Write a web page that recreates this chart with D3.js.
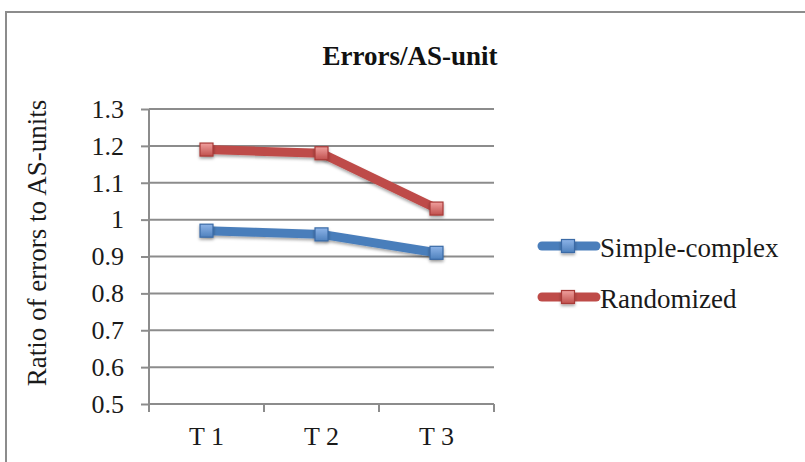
<!DOCTYPE html>
<html>
<head>
<meta charset="utf-8">
<script src="https://cdn.jsdelivr.net/npm/d3@7"></script>
<style>
  html, body { margin: 0; padding: 0; background: #fff; }
  svg { display: block; }
</style>
</head>
<body>
<svg id="chart" width="805" height="462"></svg>
<script>
// Error ratios per testing time, for each task sequencing condition
const categories = ["T 1", "T 2", "T 3"];
const simpleComplex = [0.97, 0.96, 0.91];
const randomized = [1.19, 1.18, 1.03];
const yTicks = [0.5, 0.6, 0.7, 0.8, 0.9, 1.0, 1.1, 1.2, 1.3];
const seriesNames = ["Simple-complex", "Randomized"];

const series = [
  { name: seriesNames[0], values: simpleComplex, line: "#4a7ebb", dark: "#3a6aa6", light: "#8db4e8", mid: "#4f81bd" },
  { name: seriesNames[1], values: randomized, line: "#be4b48", dark: "#a83a37", light: "#f0a09e", mid: "#c0504d" }
];

const svg = d3.select("#chart");
const serif = "'Liberation Serif', 'Times New Roman', serif";

// Outer chart frame
svg.append("rect")
  .attr("x", 6).attr("y", 12)
  .attr("width", 830).attr("height", 480)
  .attr("fill", "#fff").attr("stroke", "#8c8c8c").attr("stroke-width", 2);

const plot = { left: 149, right: 494, top: 109, bottom: 404 };

const x = d3.scaleBand().domain(categories).range([plot.left, plot.right]);
const y = d3.scaleLinear().domain([0.5, 1.3]).range([plot.bottom, plot.top]);

// Gradients and shadow for markers
const defs = svg.append("defs");
series.forEach((s, i) => {
  const g = defs.append("linearGradient").attr("id", "mk" + i)
    .attr("x1", 0).attr("y1", 0).attr("x2", 0).attr("y2", 1);
  g.append("stop").attr("offset", "0%").attr("stop-color", s.light);
  g.append("stop").attr("offset", "100%").attr("stop-color", s.mid);
});
const sh = defs.append("filter").attr("id", "shadow")
  .attr("x", "-50%").attr("y", "-50%").attr("width", "200%").attr("height", "200%");
sh.append("feDropShadow").attr("dx", 0).attr("dy", 2).attr("stdDeviation", 1.5)
  .attr("flood-color", "#000").attr("flood-opacity", 0.35);

// Horizontal gridlines
svg.append("g")
  .selectAll("line").data(yTicks.slice(1)).join("line")
  .attr("x1", plot.left).attr("x2", plot.right)
  .attr("y1", d => y(d)).attr("y2", d => y(d))
  .attr("stroke", "#8c8c8c").attr("stroke-width", 2);

// Y axis
const yAxis = svg.append("g")
  .attr("transform", `translate(${plot.left},0)`)
  .call(d3.axisLeft(y).tickValues(yTicks).tickSize(8).tickPadding(17)
    .tickFormat(d => d === 1 ? "1" : d3.format(".1f")(d)));
yAxis.select(".domain").attr("stroke", "#8c8c8c").attr("stroke-width", 2)
  .attr("d", `M0,${plot.top}V${plot.bottom}`);
yAxis.selectAll(".tick line").attr("stroke", "#8c8c8c").attr("stroke-width", 2);
yAxis.selectAll(".tick text")
  .attr("font-family", serif).attr("font-size", 26).attr("fill", "#1a1a1a");

// X axis with ticks at category boundaries
const xAxis = svg.append("g")
  .attr("transform", `translate(0,${plot.bottom})`)
  .call(d3.axisBottom(x).tickSize(0).tickPadding(23));
xAxis.select(".domain").attr("stroke", "#8c8c8c").attr("stroke-width", 2)
  .attr("d", `M${plot.left},0H${plot.right}`);
xAxis.selectAll(".tick text")
  .attr("font-family", serif).attr("font-size", 26).attr("fill", "#1a1a1a");
const bounds = categories.map(c => x(c)).concat([x(categories[categories.length - 1]) + x.bandwidth()]);
xAxis.selectAll(".bound").data(bounds).join("line")
  .attr("class", "bound")
  .attr("x1", d => d).attr("x2", d => d).attr("y1", 0).attr("y2", 8)
  .attr("stroke", "#8c8c8c").attr("stroke-width", 2);

// Series lines and markers
const line = d3.line()
  .x((d, i) => x(categories[i]) + x.bandwidth() / 2)
  .y(d => y(d));

function marker(g, cx, cy, i) {
  g.append("rect")
    .attr("x", cx - 6.5).attr("y", cy - 6.5).attr("width", 13).attr("height", 13)
    .attr("fill", `url(#mk${i})`).attr("stroke", series[i].dark).attr("stroke-width", 1.2)
    .attr("filter", "url(#shadow)");
}

series.forEach((s, i) => {
  const g = svg.append("g");
  g.append("path").datum(s.values)
    .attr("d", line).attr("fill", "none")
    .attr("stroke", s.line).attr("stroke-width", 9)
    .attr("stroke-linejoin", "round").attr("stroke-linecap", "round")
    .attr("filter", "url(#shadow)");
  s.values.forEach((v, j) => marker(g, x(categories[j]) + x.bandwidth() / 2, y(v), i));
});

// Title
svg.append("text")
  .attr("x", 410).attr("y", 65)
  .attr("text-anchor", "middle")
  .attr("font-family", serif).attr("font-weight", "bold").attr("font-size", 27)
  .attr("fill", "#111")
  .text("Errors/AS-unit");

// Y axis title
svg.append("text")
  .attr("transform", `translate(46,243) rotate(-90)`)
  .attr("text-anchor", "middle")
  .attr("font-family", serif).attr("font-size", 27).attr("fill", "#1a1a1a")
  .text("Ratio of errors to AS-units");

// Legend
const legendY = [246, 297];
series.forEach((s, i) => {
  const g = svg.append("g");
  g.append("line")
    .attr("x1", 542).attr("x2", 596).attr("y1", legendY[i]).attr("y2", legendY[i])
    .attr("stroke", s.line).attr("stroke-width", 9).attr("stroke-linecap", "round");
  marker(g, 568, legendY[i], i);
  g.append("text")
    .attr("x", 600).attr("y", legendY[i] + 11)
    .attr("font-family", serif).attr("font-size", 27).attr("fill", "#1a1a1a")
    .text(s.name);
});
</script>
</body>
</html>
